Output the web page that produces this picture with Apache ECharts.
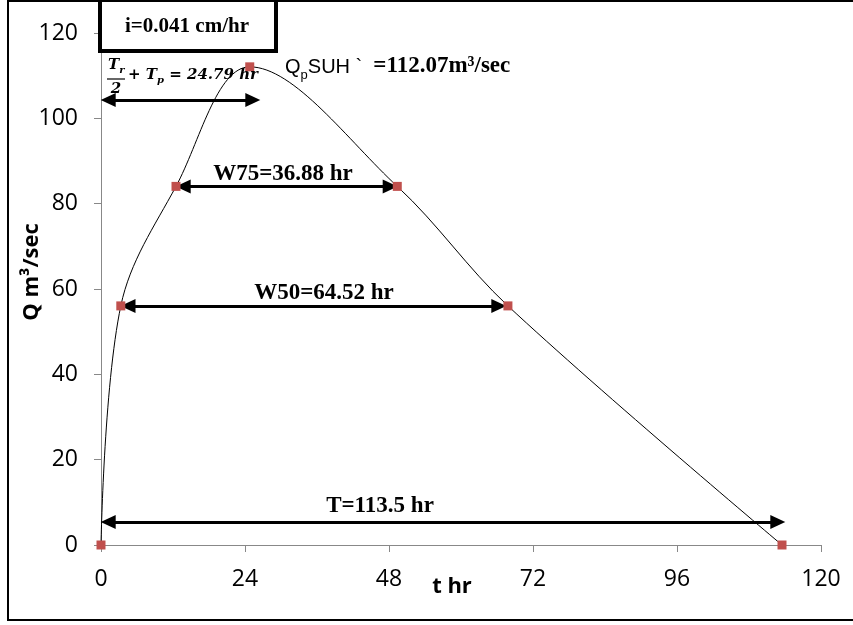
<!DOCTYPE html>
<html>
<head>
<meta charset="utf-8">
<script src="https://cdn.jsdelivr.net/npm/echarts@6/dist/echarts.min.js"></script>
<style>
html, body { margin: 0; padding: 0; background: #fff; }
#hydro { width: 853px; height: 625px; }
</style>
</head>
<body>
<div id="hydro"></div>
<script>
// 数据：时间 (hr) 与流量 (m3/sec)
var tVals = [0, 3.3, 12.5, 24.79, 49.38, 67.82, 113.5];
var qVals = [0, 56.04, 84.05, 112.07, 84.05, 56.04, 0];

// 双向箭头：起点、终点、高度
var arrowStart = [1.2, 13.7, 4.5, 1.2];
var arrowEnd = [25.3, 48.2, 66.3, 112.8];
var arrowY = [104.3, 84.05, 56.04, 5.4];

var xTicks = { min: 0, max: 120, interval: 24 };
var yTicks = { min: 0, max: 120, interval: 20 };

var myChart = echarts.init(document.getElementById('hydro'));

var points = tVals.map(function (t, i) { return [t, qVals[i]]; });
var arrows = arrowY.map(function (y, i) {
	return [{ coord: [arrowStart[i], y] }, { coord: [arrowEnd[i], y] }];
});

var serifB = 'Liberation Serif';
var mathF = 'DejaVu Serif';
var tickFont = { color: '#000', fontFamily: 'Open Sans', fontSize: 23 };

option = {
	animation: false,
	grid: {
		left: 101,
		right: 32,
		top: 33,
		bottom: 80
	},
	xAxis: {
		type: 'value',
		min: xTicks.min,
		max: xTicks.max,
		interval: xTicks.interval,
		name: 't hr',
		nameLocation: 'middle',
		nameGap: 31,
		nameMoveOverlap: false,
		nameTextStyle: {
			color: '#000',
			fontFamily: 'Open Sans',
			fontWeight: 'bold',
			fontSize: 22,
			padding: [0, 18, 0, 0]
		},
		axisLabel: Object.assign({ margin: 23 }, tickFont),
		axisTick: { show: true, length: 7, lineStyle: { color: '#888' } },
		axisLine: { lineStyle: { color: '#888', width: 1 } },
		splitLine: { show: false }
	},
	yAxis: {
		type: 'value',
		min: yTicks.min,
		max: yTicks.max,
		interval: yTicks.interval,
		name: 'Q m³/sec',
		nameLocation: 'middle',
		nameGap: 58,
		nameRotate: 90,
		nameMoveOverlap: false,
		nameTextStyle: {
			color: '#000',
			fontFamily: 'Open Sans',
			fontWeight: 'bold',
			fontSize: 22,
			padding: [0, 0, 0, 34]
		},
		axisLabel: Object.assign({ margin: 23 }, tickFont),
		axisTick: { show: true, length: 7, lineStyle: { color: '#888' } },
		axisLine: { show: true, lineStyle: { color: '#888', width: 1 } },
		splitLine: { show: false }
	},
	series: [{
		type: 'line',
		smooth: 0.35,
		data: points,
		symbol: 'rect',
		symbolSize: 9,
		showAllSymbol: true,
		itemStyle: { color: '#c0504d' },
		lineStyle: { color: '#000', width: 1 },
		z: 3,
		markLine: {
			silent: true,
			symbol: ['triangle', 'triangle'],
			symbolSize: [14, 15],
			lineStyle: { color: '#000', width: 3, type: 'solid' },
			label: { show: false },
			data: arrows,
			z: 2
		}
	}],
	graphic: [
		// 外框
		{ type: 'rect', shape: { x: 8, y: 1, width: 900, height: 619 },
		  style: { fill: null, stroke: '#000', lineWidth: 2 }, z: 0, silent: true },
		// i 框
		{ type: 'rect', shape: { x: 100, y: 0, width: 176, height: 51 },
		  style: { fill: '#fff', stroke: '#000', lineWidth: 4 }, z: 10 },
		{ type: 'text', x: 187, y: 27, z: 11,
		  style: { text: 'i=0.041 cm/hr', fontFamily: serifB, fontWeight: 'bold', fontSize: 21,
		           fill: '#000', align: 'center', verticalAlign: 'middle' } },
		// Qp 标注
		{ type: 'text', x: 285, y: 66, z: 11,
		  style: {
			text: '{a|Q}{s|p}{a|SUH `  }{b|=112.07m³/sec}',
			align: 'left', verticalAlign: 'middle',
			rich: {
				a: { fontFamily: 'Liberation Sans', fontSize: 20, fill: '#000', verticalAlign: 'bottom' },
				s: { fontFamily: 'Liberation Sans', fontSize: 13, fill: '#000', verticalAlign: 'bottom', padding: [0, 0, -4, 0] },
				b: { fontFamily: serifB, fontWeight: 'bold', fontSize: 23, fill: '#000', verticalAlign: 'bottom' }
			}
		  } },
		// 公式 Tr`/2 + Tp = 24.79 hr
		{ type: 'text', x: 108, y: 65, z: 11,
		  style: {
			text: '{i|T}{s|r}', align: 'left', verticalAlign: 'middle',
			rich: {
				i: { fontFamily: mathF, fontStyle: 'italic', fontWeight: 'bold', fontSize: 15, fill: '#000', verticalAlign: 'bottom' },
				s: { fontFamily: mathF, fontStyle: 'italic', fontWeight: 'bold', fontSize: 10, fill: '#000', verticalAlign: 'bottom', padding: [0, 0, -3, 0] }
			}
		  } },
		{ type: 'text', x: 125, y: 57, z: 11,
		  style: { text: '`', fontFamily: mathF, fontSize: 9, fill: '#000', align: 'center', verticalAlign: 'middle' } },
		{ type: 'line', shape: { x1: 107, y1: 79, x2: 125, y2: 79 }, style: { stroke: '#000', lineWidth: 1.2 }, z: 11 },
		{ type: 'text', x: 116, y: 89, z: 11,
		  style: { text: '2', fontFamily: mathF, fontStyle: 'italic', fontWeight: 'bold', fontSize: 15, fill: '#000', align: 'center', verticalAlign: 'middle' } },
		{ type: 'text', x: 128, y: 75, z: 11,
		  style: {
			text: '{i|+ T}{s|p}{i| = 24.79 hr}', align: 'left', verticalAlign: 'middle',
			rich: {
				i: { fontFamily: mathF, fontStyle: 'italic', fontWeight: 'bold', fontSize: 15, fill: '#000', verticalAlign: 'bottom' },
				s: { fontFamily: mathF, fontStyle: 'italic', fontWeight: 'bold', fontSize: 10, fill: '#000', verticalAlign: 'bottom', padding: [0, 0, -3, 0] }
			}
		  } },
		// 宽度标注
		{ type: 'text', x: 283, y: 174, z: 11,
		  style: { text: 'W75=36.88 hr', fontFamily: serifB, fontWeight: 'bold', fontSize: 23, fill: '#000', align: 'center', verticalAlign: 'middle' } },
		{ type: 'text', x: 324, y: 293, z: 11,
		  style: { text: 'W50=64.52 hr', fontFamily: serifB, fontWeight: 'bold', fontSize: 23, fill: '#000', align: 'center', verticalAlign: 'middle' } },
		{ type: 'text', x: 380, y: 506, z: 11,
		  style: { text: 'T=113.5 hr', fontFamily: serifB, fontWeight: 'bold', fontSize: 23, fill: '#000', align: 'center', verticalAlign: 'middle' } }
	]
};
// 使用刚指定的配置项和数据显示图表。
myChart.setOption(option);
window.addEventListener("resize", function () {
	myChart.resize();
});
</script>
</body>
</html>
